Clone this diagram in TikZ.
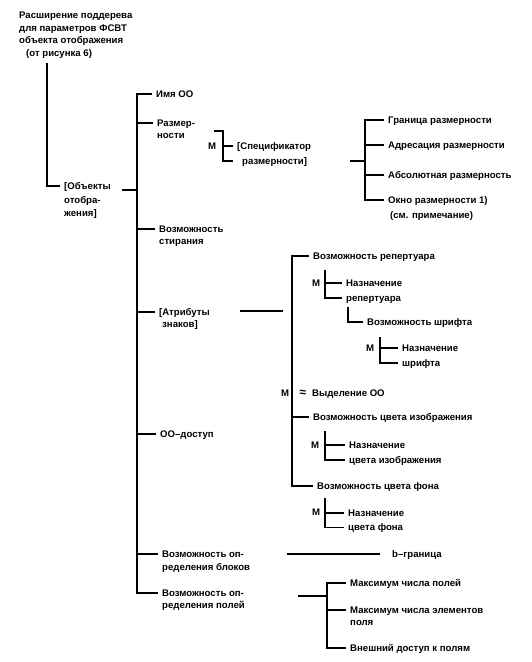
\documentclass[tikz,border=0pt]{standalone}
\usepackage{fontspec}
\setmainfont{Liberation Sans}
\newcommand\ml[2][1]{{\renewcommand\arraystretch{#1}\begin{tabular}[t]{@{}l@{}}#2\end{tabular}}}
\newcommand\mkA[1]{\coordinate (#1-a) at ([xshift=-4pt,yshift=3.5pt]#1.base west);}
\newcommand\mkB[1]{\coordinate (#1-b) at ([xshift=-4pt,yshift=-11.5pt]#1.base west);}
\tikzset{
  lbl/.style={anchor=base west, inner sep=0pt, yshift=-3.5pt, font=\fontsize{9.6}{12.5}\selectfont\bfseries},
  mk/.style={inner sep=0pt, font=\fontsize{9.6}{12.5}\selectfont\bfseries},
  ln/.style={line width=1.4pt},
}
\begin{document}
\begin{tikzpicture}[x=1pt,y=-1pt]
\useasboundingbox (0,0) rectangle (531,662);
% title and root
\node[lbl] (title) at (19,15) {\ml{Расширение поддерева\\для параметров ФСВТ\\объекта отображения\\\hspace{7pt}(от рисунка 6)}};
\coordinate (r0) at (47,63);
\node[lbl] (obj) at (64,186) {\ml[1.08]{[Объекты\\отобра-\\жения]}};
\mkA{obj}
\draw[ln] (r0) |- (obj-a);
% main spine
\coordinate (mx) at (137,0);
\coordinate (m0) at (122,190);
\draw[ln] (m0) -- (m0 -| mx);
\node[lbl] (imya) at (156,94) {Имя ОО};
\node[lbl] (razm) at (157,123) {\ml[0.96]{Размер-\\ности}};
\node[lbl] (ster) at (159,229) {\ml[0.96]{Возможность\\стирания}};
\node[lbl] (attr) at (159,312) {\ml[0.96]{[Атрибуты\\\hspace{3pt}знаков]}};
\node[lbl] (dost) at (160,434) {ОО–доступ};
\node[lbl] (blok) at (162,554) {\ml[1.04]{Возможность оп-\\ределения блоков}};
\node[lbl] (polei) at (162,593) {\ml[0.96]{Возможность оп-\\ределения полей}};
\foreach \n in {imya,razm,ster,attr,dost,blok,polei} {\mkA{\n}}
\draw[ln] (imya-a) -- (imya-a -| mx) -- (polei-a -| mx) -- (polei-a);
\foreach \n in {razm,ster,attr,dost,blok} {\draw[ln] (\n-a -| mx) -- (\n-a);}
% specifier
\node[mk] (m1) at (212,146) {М};
\node[lbl] (spec) at (237,146) {\ml[1.2]{[Спецификатор\\\hspace{5pt}размерности]}};
\mkA{spec}\mkB{spec}
\coordinate (sx) at (223,0);
\coordinate (s0) at (214,131);
\draw[ln] (s0) -- (s0 -| sx) -- (spec-b -| sx) -- (spec-b);
\draw[ln] (spec-a -| sx) -- (spec-a);
\coordinate (q0) at (350,161);
\coordinate (qx) at (365,0);
\draw[ln] (q0) -- (q0 -| qx);
\node[lbl] (gran) at (388,120) {Граница размерности};
\node[lbl] (adr) at (388,145) {Адресация размерности};
\node[lbl] (abs) at (388,175) {Абсолютная размерность};
\node[lbl] (okno) at (388,200) {\ml[1.2]{Окно размерности 1)\\\hspace{2pt}(см. примечание)}};
\foreach \n in {gran,adr,abs,okno} {\mkA{\n}}
\draw[ln] (gran-a) -- (gran-a -| qx) -- (okno-a -| qx) -- (okno-a);
\foreach \n in {adr,abs} {\draw[ln] (\n-a -| qx) -- (\n-a);}
% attributes
\coordinate (p0) at (240,311);
\coordinate (p1) at (283,311);
\draw[ln] (p0) -- (p1);
\coordinate (ax) at (292,0);
\node[lbl] (rep) at (313,256) {Возможность репертуара};
\node[lbl] (vyd) at (312,393) {Выделение ОО};
\node[mk] (m2) at (285,393) {М};
\node[mk, font=\fontsize{12}{12}\selectfont\bfseries] (apx) at (303,393) {≈};
\node[lbl] (izob) at (313,417) {Возможность цвета изображения};
\node[lbl] (fon) at (317,486) {Возможность цвета фона};
\foreach \n in {rep,izob,fon} {\mkA{\n}}
\draw[ln] (rep-a) -- (rep-a -| ax) -- (fon-a -| ax) -- (fon-a);
\draw[ln] (izob-a -| ax) -- (izob-a);
% Назначение репертуара
\node[mk] (m3) at (316,283) {М};
\node[lbl] (nrep) at (346,283) {\ml[1.2]{Назначение\\репертуара}};
\mkA{nrep}\mkB{nrep}
\coordinate (b1) at (325,270);
\draw[ln] (b1) -- (nrep-b -| b1) -- (nrep-b);
\draw[ln] (nrep-a -| b1) -- (nrep-a);
% Возможность шрифта
\node[lbl] (shr) at (367,322) {Возможность шрифта};
\mkA{shr}
\coordinate (c1) at (348,307);
\draw[ln] (c1) |- (shr-a);
% Назначение шрифта
\node[mk] (m4) at (370,348) {М};
\node[lbl] (nshr) at (402,348) {\ml[1.2]{Назначение\\шрифта}};
\mkA{nshr}\mkB{nshr}
\coordinate (b2) at (380,337);
\draw[ln] (b2) -- (nshr-b -| b2) -- (nshr-b);
\draw[ln] (nshr-a -| b2) -- (nshr-a);
% Назначение цвета изображения
\node[mk] (m5) at (315,445) {М};
\node[lbl] (nizob) at (349,445) {\ml[1.2]{Назначение\\цвета изображения}};
\mkA{nizob}\mkB{nizob}
\coordinate (b3) at (325,431);
\draw[ln] (b3) -- (nizob-b -| b3) -- (nizob-b);
\draw[ln] (nizob-a -| b3) -- (nizob-a);
% Назначение цвета фона
\node[mk] (m6) at (316,512) {М};
\node[lbl] (nfon) at (348,513) {\ml[1.15]{Назначение\\цвета фона}};
\coordinate (nfon-a) at ([xshift=-4pt,yshift=3.5pt]nfon.base west);
\coordinate (nfon-b) at ([xshift=-4pt,yshift=-10.9pt]nfon.base west);
\coordinate (b4) at (325,498);
\draw[ln] (b4) -- (nfon-b -| b4) -- (nfon-b);
\draw[ln] (nfon-a -| b4) -- (nfon-a);
% b-граница
\node[lbl] (bgr) at (392,554) {b–граница};
\coordinate (l0) at (287,554);
\draw[ln] (l0) -- ([xshift=-12pt,yshift=3.5pt]bgr.base west);
% fields
\coordinate (f0) at (298,596);
\coordinate (fx) at (327,0);
\draw[ln] (f0) -- (f0 -| fx);
\node[lbl] (max1) at (350,583) {Максимум числа полей};
\node[lbl] (max2) at (350,610) {\ml[0.96]{Максимум числа элементов\\поля}};
\node[lbl] (vnesh) at (350,648) {Внешний доступ к полям};
\foreach \n in {max1,max2,vnesh} {\mkA{\n}}
\draw[ln] (max1-a) -- (max1-a -| fx) -- (vnesh-a -| fx) -- (vnesh-a);
\draw[ln] (max2-a -| fx) -- (max2-a);
\end{tikzpicture}
\end{document}
